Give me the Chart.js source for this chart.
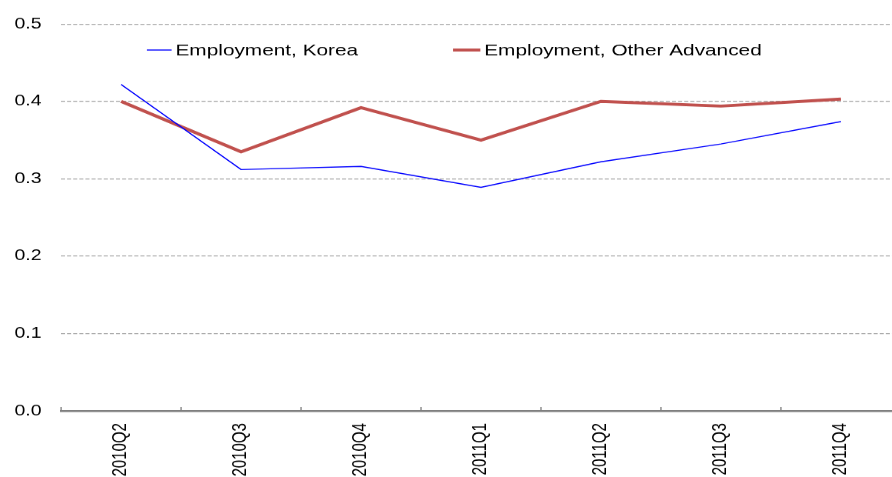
<!DOCTYPE html>
<html>
<head>
<meta charset="utf-8">
<script src="https://cdn.jsdelivr.net/npm/chart.js@4/dist/chart.umd.min.js"></script>
<style>
  html, body { margin: 0; padding: 0; background: #fff; overflow: hidden; }
  /* the picture is stretched sideways: draw at 1.3x, squeeze height back */
  #chart { display: block; width: 900px !important; height: 477px !important; }
</style>
</head>
<body>
<canvas id="chart" width="693" height="477"></canvas>
<script>
// data
const quarters = ['2010Q2', '2010Q3', '2010Q4', '2011Q1', '2011Q2', '2011Q3', '2011Q4'];
const koreaEmployment = [0.422, 0.312, 0.316, 0.289, 0.322, 0.345, 0.374];
const otherAdvancedEmployment = [0.400, 0.335, 0.392, 0.350, 0.400, 0.394, 0.403];
const yMin = 0.0;
const yMax = 0.5;
const yStep = 0.1;

const FONT = 'Arial, "Liberation Sans", sans-serif';

// legend drawn inside the plot, like the original
const insideLegend = {
    id: 'insideLegend',
    afterDraw(chart) {
        const ctx = chart.ctx;
        const items = [
            { ds: chart.data.datasets[0], x: 113, w: 19 },
            { ds: chart.data.datasets[1], x: 348.5, w: 21 }
        ];
        ctx.save();
        ctx.font = '16px ' + FONT;
        ctx.textBaseline = 'middle';
        ctx.fillStyle = '#000';
        items.forEach(item => {
            ctx.strokeStyle = item.ds.borderColor;
            ctx.lineWidth = item.ds.borderWidth;
            ctx.beginPath();
            ctx.moveTo(item.x, 50);
            ctx.lineTo(item.x + item.w, 50);
            ctx.stroke();
            ctx.fillText(item.ds.label, item.x + item.w + 3, 51);
        });
        ctx.restore();
    }
};

// small tick marks pointing up into the plot at category edges
const innerTicks = {
    id: 'innerTicks',
    afterDatasetsDraw(chart) {
        const x = chart.scales.x;
        const ctx = chart.ctx;
        const n = quarters.length;
        ctx.save();
        ctx.strokeStyle = '#7f7f7f';
        ctx.lineWidth = 1;
        ctx.beginPath();
        for (let i = 0; i <= n; i++) {
            const px = x.left + i * (x.right - x.left) / n;
            ctx.moveTo(px, x.top - 4);
            ctx.lineTo(px, x.top);
        }
        ctx.stroke();
        ctx.restore();
    }
};

new Chart(document.getElementById('chart'), {
    type: 'line',
    data: {
        labels: quarters,
        datasets: [{
            label: 'Employment, Korea',
            data: koreaEmployment,
            borderColor: '#0000ff',
            borderWidth: 1.1,
            pointRadius: 0,
            tension: 0
        }, {
            label: 'Employment, Other Advanced',
            data: otherAdvancedEmployment,
            borderColor: '#c0504d',
            borderWidth: 3,
            pointRadius: 0,
            tension: 0
        }]
    },
    options: {
        responsive: false,
        devicePixelRatio: 1.3,
        animation: false,
        layout: { padding: { top: 24, right: 0, left: 0, bottom: 0 } },
        plugins: {
            legend: { display: false },
            tooltip: { enabled: false }
        },
        scales: {
            x: {
                offset: true,
                grid: { offset: true, drawOnChartArea: false, drawTicks: false },
                border: { display: true, color: '#7f7f7f', width: 2 },
                ticks: {
                    autoSkip: false,
                    maxRotation: 90,
                    minRotation: 90,
                    padding: 12,
                    color: '#000',
                    font: { family: FONT, size: 15 }
                },
                afterFit(scale) { scale.height = 66; }
            },
            y: {
                min: yMin,
                max: yMax,
                grid: {
                    drawTicks: false,
                    lineWidth: 1,
                    color: c => (c.tick && c.tick.value === 0) ? 'rgba(0,0,0,0)' : '#a6a6a6'
                },
                border: { display: false, dash: [3.1, 1.6] },
                ticks: {
                    stepSize: yStep,
                    padding: 15,
                    color: '#000',
                    font: { family: FONT, size: 15 },
                    callback: v => Number(v).toFixed(1)
                },
                afterFit(scale) { scale.width = 47; }
            }
        }
    },
    plugins: [insideLegend, innerTicks]
});
</script>
</body>
</html>
